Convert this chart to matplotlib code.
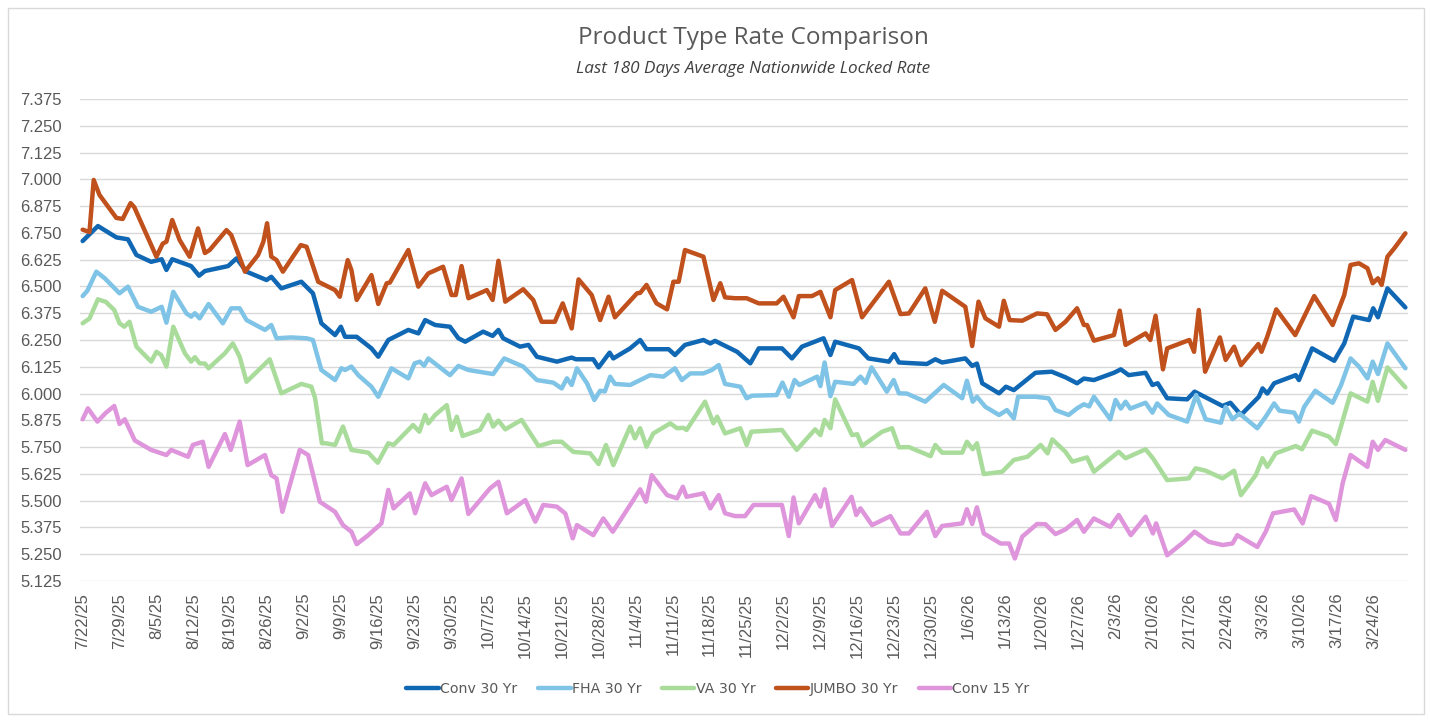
import datetime
import numpy as np
import matplotlib
matplotlib.use("Agg")
import matplotlib.pyplot as plt
from matplotlib.patches import Rectangle

# days counted from 7/22/25, rates
start_date = datetime.date(2025, 7, 22)

conv30_days = [0, 2.9, 6.4, 8.6, 10.2, 13.0, 15.0, 15.9, 17.0, 20.6, 22.1, 23.2, 27.6, 29.2, 31.1, 34.9, 35.8, 37.7,
               41.5, 43.7, 45.3, 47.9, 49.0, 49.8, 52.0, 54.8, 56.1, 58.0, 61.8, 63.7, 65.0, 66.9, 69.7, 71.3, 72.6,
               76.0, 77.8, 78.9, 79.8, 83.0, 84.6, 86.2, 90.0, 92.8, 93.6, 96.9, 97.9, 100.0, 100.7, 103.9, 105.8,
               107.0, 111.2, 112.4, 114.3, 117.8, 119.1, 120.0, 124.2, 126.7, 128.3, 132.7, 134.6, 136.5, 140.6,
               141.9, 142.8, 147.3, 149.1, 153.0, 154.0, 154.9, 160.2, 161.8, 163.1, 167.5, 168.8, 169.7, 170.7,
               173.9, 175.2, 176.7, 180.8, 183.9, 186.5, 188.7, 190.0, 191.9, 195.7, 197.0, 198.5, 201.7, 203.0,
               204.0, 205.8, 209.6, 211.0, 216.3, 217.8, 219.8, 223.2, 223.9, 224.8, 226.1, 230.2, 230.8, 233.3,
               237.5, 239.4, 241.1, 244.1, 244.9, 245.8, 247.6, 251.0]
conv30_rates = [6.712, 6.782, 6.729, 6.72, 6.647, 6.615, 6.627, 6.577, 6.627, 6.595, 6.55, 6.572, 6.595, 6.631, 6.569,
                6.53, 6.545, 6.491, 6.522, 6.468, 6.328, 6.273, 6.312, 6.265, 6.265, 6.211, 6.172, 6.25, 6.297, 6.281,
                6.343, 6.32, 6.312, 6.258, 6.242, 6.289, 6.269, 6.297, 6.258, 6.219, 6.227, 6.172, 6.149, 6.168, 6.16,
                6.16, 6.122, 6.191, 6.164, 6.211, 6.25, 6.207, 6.207, 6.18, 6.227, 6.25, 6.234, 6.246, 6.195, 6.141,
                6.211, 6.211, 6.164, 6.219, 6.258, 6.18, 6.242, 6.211, 6.164, 6.149, 6.184, 6.145, 6.138, 6.16, 6.145,
                6.164, 6.129, 6.14, 6.048, 6.001, 6.032, 6.016, 6.097, 6.102, 6.076, 6.048, 6.07, 6.063, 6.097, 6.113,
                6.086, 6.097, 6.04, 6.048, 5.978, 5.973, 6.009, 5.942, 5.957, 5.9, 5.985, 6.024, 6.0, 6.048, 6.086,
                6.063, 6.211, 6.153, 6.234, 6.359, 6.343, 6.398, 6.356, 6.491, 6.402]

fha30_days = [0, 0.9, 2.6, 4.2, 7.0, 8.6, 10.5, 13.0, 15.0, 15.9, 17.2, 19.7, 20.6, 21.3, 22.2, 23.9, 26.6, 28.2, 29.8,
              31.1, 34.6, 35.8, 36.8, 39.6, 42.5, 43.7, 45.3, 47.9, 49.1, 49.8, 51.0, 52.3, 54.8, 56.1, 58.6, 61.8,
              63.0, 64.0, 64.8, 65.6, 69.7, 71.3, 73.2, 77.9, 80.0, 83.6, 86.2, 89.3, 90.9, 91.9, 92.8, 93.8, 95.7,
              97.1, 98.2, 99.1, 100.1, 101.0, 103.9, 107.7, 110.2, 112.4, 113.7, 115.3, 117.8, 119.4, 120.7, 121.9,
              124.8, 126.0, 127.0, 131.7, 132.8, 134.0, 135.1, 136.0, 139.4, 140.0, 140.8, 141.9, 142.8, 146.3,
              147.6, 148.6, 149.7, 152.6, 153.9, 154.9, 156.4, 159.9, 163.4, 166.9, 167.8, 168.9, 169.7, 171.3,
              173.9, 175.4, 176.7, 177.5, 180.8, 183.3, 184.6, 187.1, 188.7, 190.0, 191.0, 191.9, 195.0, 196.0,
              197.0, 197.9, 198.8, 201.7, 203.0, 203.9, 206.1, 209.6, 211.3, 213.1, 216.0, 216.9, 218.2, 219.5,
              222.9, 224.5, 226.1, 227.1, 229.9, 230.8, 231.8, 233.9, 237.2, 238.8, 240.6, 242.2, 243.8, 244.8,
              245.8, 247.6, 251.0]
fha30_rates = [6.455, 6.48, 6.569, 6.538, 6.468, 6.499, 6.405, 6.382, 6.405, 6.331, 6.475, 6.374, 6.359, 6.375, 6.351,
               6.418, 6.328, 6.398, 6.398, 6.343, 6.297, 6.32, 6.258, 6.262, 6.258, 6.25, 6.11, 6.063, 6.118, 6.11,
               6.126, 6.086, 6.032, 5.985, 6.118, 6.071, 6.141, 6.149, 6.13, 6.164, 6.086, 6.129, 6.11, 6.091, 6.164,
               6.126, 6.063, 6.051, 6.024, 6.071, 6.04, 6.118, 6.048, 5.97, 6.013, 6.01, 6.079, 6.045, 6.04, 6.086,
               6.079, 6.118, 6.063, 6.094, 6.094, 6.11, 6.133, 6.045, 6.032, 5.978, 5.99, 5.993, 6.051, 5.985, 6.063,
               6.04, 6.079, 6.035, 6.145, 5.988, 6.055, 6.045, 6.079, 6.05, 6.122, 6.009, 6.063, 6.001, 6.0, 5.962,
               6.04, 5.978, 6.06, 5.962, 5.985, 5.938, 5.9, 5.923, 5.884, 5.985, 5.985, 5.978, 5.923, 5.9, 5.931,
               5.95, 5.94, 5.985, 5.88, 5.97, 5.93, 5.962, 5.93, 5.957, 5.911, 5.954, 5.9, 5.869, 5.993, 5.88, 5.864,
               5.938, 5.88, 5.907, 5.838, 5.892, 5.954, 5.92, 5.911, 5.869, 5.938, 6.013, 5.957, 6.04, 6.164, 6.126,
               6.071, 6.149, 6.091, 6.234, 6.118]

va30_days = [0, 1.3, 2.9, 4.4, 6.0, 7.0, 7.9, 8.9, 10.2, 13.0, 14.0, 14.9, 15.9, 17.2, 19.4, 20.6, 21.3, 22.2, 23.2,
             23.9, 27.0, 28.5, 29.8, 31.1, 35.5, 37.7, 41.5, 43.4, 44.1, 45.4, 46.1, 47.9, 49.4, 51.0, 54.2, 56.0,
             58.0, 59.0, 62.7, 63.9, 65.0, 65.6, 66.9, 69.1, 70.0, 71.0, 72.1, 75.4, 77.0, 77.9, 78.9, 80.2, 83.3,
             86.5, 89.3, 90.9, 93.1, 96.3, 97.9, 99.3, 100.7, 103.9, 104.8, 105.8, 107.0, 108.3, 111.5, 112.8,
             114.0, 114.6, 118.1, 119.7, 120.4, 121.9, 124.8, 126.0, 126.9, 132.7, 135.5, 139.0, 140.0, 140.8,
             141.9, 142.8, 146.0, 147.0, 147.9, 151.7, 153.6, 154.9, 156.8, 160.9, 161.8, 163.1, 166.9, 167.8,
             168.9, 169.7, 171.0, 174.5, 176.7, 179.3, 181.8, 183.1, 184.0, 186.5, 187.8, 190.6, 191.9, 196.6,
             197.9, 201.7, 203.1, 205.8, 209.9, 211.2, 213.1, 216.3, 218.5, 219.8, 222.6, 223.9, 224.8, 226.4,
             230.2, 231.4, 233.3, 236.5, 237.8, 240.6, 243.8, 244.8, 245.8, 247.6, 251.0]
va30_rates = [6.328, 6.35, 6.44, 6.428, 6.39, 6.328, 6.312, 6.335, 6.219, 6.149, 6.195, 6.18, 6.126, 6.312, 6.188,
              6.149, 6.17, 6.141, 6.14, 6.118, 6.188, 6.234, 6.172, 6.055, 6.16, 6.001, 6.045, 6.032, 5.98, 5.768,
              5.768, 5.76, 5.846, 5.737, 5.724, 5.677, 5.768, 5.76, 5.853, 5.822, 5.9, 5.861, 5.9, 5.946, 5.83,
              5.892, 5.802, 5.83, 5.9, 5.846, 5.874, 5.833, 5.877, 5.755, 5.775, 5.775, 5.728, 5.721, 5.671, 5.76,
              5.666, 5.846, 5.791, 5.838, 5.752, 5.814, 5.861, 5.838, 5.84, 5.83, 5.962, 5.861, 5.892, 5.814, 5.838,
              5.76, 5.822, 5.83, 5.737, 5.833, 5.806, 5.877, 5.838, 5.973, 5.806, 5.81, 5.755, 5.822, 5.838, 5.749,
              5.75, 5.708, 5.76, 5.724, 5.724, 5.775, 5.74, 5.768, 5.624, 5.635, 5.69, 5.705, 5.76, 5.721, 5.786,
              5.728, 5.682, 5.702, 5.635, 5.728, 5.698, 5.74, 5.698, 5.596, 5.604, 5.651, 5.64, 5.604, 5.64, 5.526,
              5.619, 5.698, 5.658, 5.721, 5.755, 5.74, 5.827, 5.799, 5.764, 6.001, 5.962, 6.055, 5.966, 6.122,
              6.029]

jumbo30_days = [0, 1.3, 2.1, 3.2, 6.4, 7.6, 9.1, 9.8, 14.0, 15.2, 15.9, 17.0, 18.4, 20.3, 21.9, 23.2, 24.1, 27.3,
                28.2, 30.8, 33.3, 34.3, 35.0, 35.8, 36.8, 38.0, 39.9, 41.4, 42.5, 44.7, 47.9, 48.8, 50.3, 51.0, 52.0,
                54.8, 56.1, 57.7, 58.3, 61.8, 63.7, 65.6, 68.4, 70.0, 70.8, 71.9, 73.2, 76.7, 77.8, 78.9, 80.2, 83.6,
                85.5, 87.1, 89.6, 91.1, 92.8, 94.1, 96.6, 98.2, 99.8, 101.0, 105.2, 105.8, 107.0, 108.9, 110.9, 112.1,
                113.1, 114.3, 117.8, 119.7, 121.0, 121.9, 123.8, 126.0, 128.3, 131.7, 133.0, 134.9, 135.9, 138.4,
                140.0, 141.9, 142.8, 146.0, 147.9, 153.0, 155.2, 156.8, 159.9, 161.7, 163.1, 167.5, 168.8, 170.0,
                171.3, 173.9, 174.8, 175.9, 178.3, 181.1, 183.0, 184.6, 186.5, 188.7, 190.0, 190.6, 191.9, 195.7,
                196.8, 197.9, 201.7, 202.6, 203.6, 205.0, 205.8, 210.0, 210.9, 211.8, 213.0, 215.8, 216.9, 218.5,
                219.8, 223.1, 223.7, 224.8, 226.5, 230.1, 233.7, 237.2, 239.4, 240.6, 242.2, 243.8, 244.8, 245.8,
                246.5, 247.6, 248.9, 251.0]
jumbo30_rates = [6.765, 6.754, 6.997, 6.927, 6.82, 6.815, 6.889, 6.87, 6.639, 6.70, 6.709, 6.81, 6.717, 6.639, 6.771,
                 6.656, 6.67, 6.763, 6.74, 6.569, 6.647, 6.709, 6.795, 6.639, 6.623, 6.569, 6.639, 6.693, 6.685, 6.522,
                 6.483, 6.452, 6.623, 6.577, 6.437, 6.553, 6.418, 6.515, 6.518, 6.67, 6.499, 6.561, 6.592, 6.46, 6.46,
                 6.595, 6.445, 6.483, 6.437, 6.62, 6.429, 6.487, 6.437, 6.335, 6.335, 6.421, 6.304, 6.533, 6.46, 6.343,
                 6.452, 6.356, 6.468, 6.47, 6.507, 6.421, 6.393, 6.522, 6.522, 6.67, 6.639, 6.437, 6.515, 6.449, 6.445,
                 6.445, 6.421, 6.421, 6.452, 6.356, 6.455, 6.455, 6.475, 6.356, 6.483, 6.53, 6.356, 6.522, 6.371,
                 6.374, 6.491, 6.335, 6.48, 6.405, 6.222, 6.429, 6.351, 6.312, 6.433, 6.343, 6.34, 6.374, 6.37, 6.297,
                 6.335, 6.398, 6.32, 6.32, 6.247, 6.273, 6.387, 6.227, 6.281, 6.25, 6.363, 6.113, 6.211, 6.25, 6.195,
                 6.39, 6.102, 6.262, 6.157, 6.219, 6.133, 6.231, 6.195, 6.266, 6.393, 6.273, 6.455, 6.32, 6.46, 6.6,
                 6.608, 6.585, 6.515, 6.538, 6.507, 6.639, 6.678, 6.748]

conv15_days = [0, 1.0, 2.8, 4.4, 6.0, 7.0, 8.0, 9.9, 13.0, 15.9, 16.8, 20.0, 20.9, 22.8, 23.9, 27.0, 28.1, 29.8, 31.3,
               34.6, 35.8, 36.8, 37.9, 41.2, 42.8, 45.0, 47.9, 49.4, 51.0, 52.0, 54.2, 56.7, 58.0, 59.0, 62.1, 63.1,
               65.0, 66.2, 69.1, 70.0, 71.9, 73.2, 77.3, 78.9, 80.5, 84.0, 85.9, 87.4, 90.0, 91.6, 93.0, 93.8, 96.9,
               98.8, 100.6, 103.9, 105.8, 106.9, 108.0, 110.9, 112.8, 113.9, 114.6, 117.8, 119.1, 120.7, 121.9,
               123.8, 125.7, 127.3, 132.7, 134.0, 134.9, 135.9, 139.0, 140.0, 140.8, 142.2, 145.9, 146.8, 147.6,
               149.8, 153.3, 155.2, 156.8, 160.2, 161.8, 163.1, 166.9, 167.8, 168.8, 169.7, 171.0, 174.2, 175.8,
               176.9, 178.3, 181.1, 182.7, 184.6, 186.5, 188.7, 190.0, 191.9, 195.0, 196.6, 198.9, 201.7, 203.1,
               203.7, 205.8, 209.0, 211.0, 213.7, 216.3, 218.2, 219.1, 222.9, 224.5, 225.9, 229.9, 231.5, 233.1,
               236.5, 237.8, 239.1, 240.6, 243.8, 244.8, 245.8, 247.2, 251.0]
conv15_rates = [5.88, 5.931, 5.869, 5.91, 5.942, 5.858, 5.88, 5.781, 5.737, 5.713, 5.737, 5.705, 5.76, 5.775, 5.658,
                5.811, 5.737, 5.869, 5.666, 5.713, 5.619, 5.604, 5.448, 5.737, 5.713, 5.495, 5.448, 5.386, 5.355, 5.297,
                5.339, 5.394, 5.55, 5.464, 5.534, 5.441, 5.581, 5.526, 5.565, 5.503, 5.604, 5.438, 5.557, 5.588, 5.441,
                5.503, 5.402, 5.48, 5.472, 5.44, 5.324, 5.386, 5.339, 5.417, 5.355, 5.48, 5.553, 5.495, 5.619, 5.526,
                5.511, 5.565, 5.518, 5.534, 5.464, 5.526, 5.441, 5.428, 5.428, 5.48, 5.48, 5.335, 5.515, 5.394, 5.526,
                5.472, 5.553, 5.382, 5.518, 5.433, 5.464, 5.386, 5.428, 5.347, 5.347, 5.448, 5.335, 5.382, 5.394, 5.46,
                5.391, 5.469, 5.347, 5.3, 5.3, 5.23, 5.332, 5.391, 5.39, 5.344, 5.366, 5.41, 5.355, 5.417, 5.378,
                5.433, 5.339, 5.425, 5.347, 5.394, 5.245, 5.308, 5.355, 5.308, 5.293, 5.3, 5.339, 5.284, 5.355, 5.441,
                5.459, 5.394, 5.521, 5.486, 5.41, 5.581, 5.713, 5.658, 5.775, 5.737, 5.783, 5.737]

series_names = ["Conv 30 Yr", "FHA 30 Yr", "VA 30 Yr", "JUMBO 30 Yr", "Conv 15 Yr"]
series_colors = ["#1067b3", "#7fc4e6", "#a9dc9b", "#c0501c", "#df95db"]
series_days = [conv30_days, fha30_days, va30_days, jumbo30_days, conv15_days]
series_rates = [conv30_rates, fha30_rates, va30_rates, jumbo30_rates, conv15_rates]

tick_days = list(range(0, 246, 7))
tick_labels = []
for d in tick_days:
    dt = start_date + datetime.timedelta(days=d)
    tick_labels.append(str(dt.month) + "/" + str(dt.day) + "/" + str(dt.year % 100))

fig = plt.figure(figsize=(14.3, 7.22), dpi=100)
fig.patches.append(Rectangle((8 / 1430, 8 / 722), 1416 / 1430, 706 / 722, transform=fig.transFigure,
                             fill=False, edgecolor="#d9d9d9", linewidth=1))
ax = fig.add_axes([80 / 1430, 1 - 581 / 722, 1328 / 1430, 482 / 722])

for name, color, xs, ys in zip(series_names, series_colors, series_days, series_rates):
    ax.plot(xs, ys, color=color, linewidth=3.2, label=name, solid_joinstyle="round", solid_capstyle="round")

ax.set_xlim(-0.5, 251.5)
ax.set_ylim(5.125, 7.375)
ax.set_yticks(np.arange(5.125, 7.3751, 0.125))
ax.yaxis.set_major_formatter(matplotlib.ticker.FormatStrFormatter("%.3f"))
ax.set_xticks(tick_days)
ax.set_xticklabels(tick_labels, rotation=90)
ax.grid(axis="y", color="#d9d9d9", linewidth=1)
ax.set_axisbelow(True)
for s in ax.spines.values():
    s.set_visible(False)
ax.tick_params(axis="both", length=0, colors="#595959", labelsize=12)
ax.tick_params(axis="y", pad=13)
ax.tick_params(axis="x", pad=8.5)
for lab in ax.get_xticklabels() + ax.get_yticklabels():
    lab.set_fontfamily(["Liberation Sans", "DejaVu Sans"])

fig.text(753 / 1430, 1 - 38 / 722, "Product Type Rate Comparison", ha="center", va="center",
         fontsize=17.5, color="#595959", family=["Open Sans", "DejaVu Sans"])
fig.text(753 / 1430, 1 - 69 / 722, "Last 180 Days Average Nationwide Locked Rate", ha="center", va="center",
         fontsize=12.3, style="italic", color="#404040", family=["Open Sans", "DejaVu Sans"])

leg = fig.legend(loc="center", bbox_to_anchor=(718 / 1430, 1 - 689 / 722), ncol=5, frameon=False,
                 handlelength=2.3, handletextpad=0.08, columnspacing=1.45,
                 prop={"family": "DejaVu Sans", "size": 10.2})
for t in leg.get_texts():
    t.set_color("#595959")

fig.savefig("out.png", dpi=100)
